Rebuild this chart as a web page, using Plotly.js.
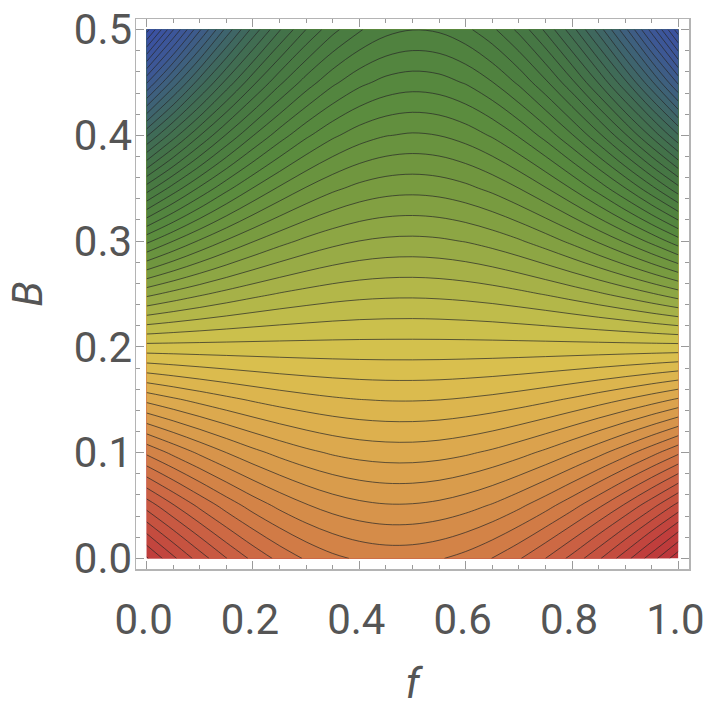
<!DOCTYPE html>
<html>
<head>
<meta charset="utf-8">
<script src="https://cdn.plot.ly/plotly-3.0.1.min.js"></script>
<style>
  html, body { margin: 0; padding: 0; background: #fff; }
  #chart { width: 706px; height: 708px; }
</style>
</head>
<body>
<div id="chart"></div>
<script>
// Ejes de la malla: f (horizontal) y B (vertical)
const fVals = [0, 0.05, 0.1, 0.15, 0.2, 0.25, 0.3, 0.35, 0.4, 0.45, 0.5,
               0.55, 0.6, 0.65, 0.7, 0.75, 0.8, 0.85, 0.9, 0.95, 1];
const bVals = [0, 0.05, 0.1, 0.15, 0.2, 0.25, 0.3, 0.35, 0.4, 0.45, 0.5];

// Valores, en unidades de "nivel de contorno" (una fila por B)
const zB000 = [-10.13, -8.22, -6.52, -5.03, -3.76, -2.71, -1.87, -1.25, -0.84, -0.65, -0.67,
               -0.91, -1.36, -2.02, -2.90, -4.00, -5.31, -6.84, -8.58, -10.54, -12.71];
const zB005 = [-5.60, -4.09, -2.76, -1.59, -0.58, 0.25, 0.92, 1.42, 1.75, 1.92, 1.91,
               1.74, 1.40, 0.90, 0.22, -0.62, -1.63, -2.81, -4.15, -5.66, -7.34];
const zB010 = [-0.80, 0.25, 1.18, 2.00, 2.71, 3.29, 3.76, 4.12, 4.36, 4.48, 4.49,
               4.38, 4.15, 3.81, 3.35, 2.78, 2.09, 1.29, 0.37, -0.67, -1.82];
const zB015 = [4.27, 4.82, 5.31, 5.74, 6.11, 6.42, 6.66, 6.85, 6.98, 7.05, 7.06,
               7.01, 6.89, 6.72, 6.49, 6.20, 5.85, 5.43, 4.96, 4.43, 3.84];
const zB020 = [9.63, 9.63, 9.63, 9.63, 9.63, 9.63, 9.63, 9.63, 9.63, 9.63, 9.63,
               9.63, 9.63, 9.63, 9.63, 9.63, 9.63, 9.63, 9.63, 9.63, 9.63];
const zB025 = [15.28, 14.68, 14.15, 13.68, 13.27, 12.93, 12.66, 12.44, 12.29, 12.21, 12.19,
               12.24, 12.35, 12.52, 12.76, 13.06, 13.43, 13.86, 14.35, 14.91, 15.54];
const zB030 = [21.25, 20.00, 18.88, 17.90, 17.05, 16.34, 15.76, 15.31, 14.99, 14.81, 14.76,
               14.84, 15.05, 15.40, 15.88, 16.50, 17.25, 18.13, 19.14, 20.29, 21.57];
const zB035 = [27.53, 25.58, 23.84, 22.30, 20.97, 19.85, 18.93, 18.22, 17.71, 17.41, 17.32,
               17.43, 17.75, 18.27, 19.00, 19.93, 21.07, 22.42, 23.97, 25.73, 27.69];
const zB040 = [34.15, 31.45, 29.03, 26.90, 25.04, 23.48, 22.19, 21.19, 20.47, 20.04, 19.88,
               20.01, 20.43, 21.12, 22.10, 23.36, 24.91, 26.74, 28.85, 31.24, 33.92];
const zB045 = [41.11, 37.60, 34.46, 31.68, 29.27, 27.22, 25.54, 24.22, 23.27, 22.68, 22.45,
               22.59, 23.09, 23.96, 25.19, 26.79, 28.75, 31.07, 33.76, 36.81, 40.23];
const zB050 = [48.42, 44.05, 40.14, 36.67, 33.66, 31.09, 28.98, 27.31, 26.10, 25.33, 25.02,
               25.15, 25.74, 26.77, 28.26, 30.19, 32.58, 35.41, 38.70, 42.43, 46.62];

const zGrid = [zB000, zB005, zB010, zB015, zB020, zB025, zB030, zB035, zB040, zB045, zB050];

const xTicks = [0, 0.2, 0.4, 0.6, 0.8, 1];
const xTickText = ['0.0', '0.2', '0.4', '0.6', '0.8', '1.0'];
const yTicks = [0, 0.1, 0.2, 0.3, 0.4, 0.5];
const yTickText = ['0.0', '0.1', '0.2', '0.3', '0.4', '0.5'];

// Escala tipo "DarkRainbow" invertida: rojo abajo, azul arriba
const escala = [
  [0.000, '#bb333a'],
  [0.048, '#c03e3c'],
  [0.129, '#ca5f43'],
  [0.194, '#d38247'],
  [0.242, '#d99a4c'],
  [0.290, '#ddae4e'],
  [0.339, '#dbbf4e'],
  [0.371, '#cfc24c'],
  [0.403, '#b8ba4a'],
  [0.452, '#91a845'],
  [0.500, '#73983f'],
  [0.565, '#588a3e'],
  [0.629, '#4b7d40'],
  [0.694, '#447446'],
  [0.758, '#3f6a58'],
  [0.823, '#3e6278'],
  [0.887, '#3d5895'],
  [1.000, '#3a4fa6'],
];

const contorno = {
  type: 'contour',
  x: fVals,
  y: bVals,
  z: zGrid,
  zmin: -13,
  zmax: 49,
  colorscale: escala,
  showscale: false,
  contours: { start: -12, end: 48, size: 1, coloring: 'fill' },
  line: { color: 'rgba(40,40,40,0.7)', width: 1, smoothing: 1 },
  hoverinfo: 'skip',
};

const fuente = { family: 'Roboto, sans-serif', size: 42, color: '#555555' };
const ejeComun = {
  showgrid: false,
  zeroline: false,
  showline: true,
  linecolor: '#b4b4b4',
  linewidth: 1.5,
  mirror: 'allticks',
  ticks: 'inside',
  ticklen: 8,
  tickwidth: 1,
  tickcolor: '#9a9a9a',
  tickfont: fuente,
  ticklabeloverflow: 'allow',
};

const layout = {
  width: 706,
  height: 708,
  margin: { l: 136, r: 17, t: 19, b: 139 },
  paper_bgcolor: '#ffffff',
  plot_bgcolor: '#ffffff',
  showlegend: false,
  xaxis: Object.assign({}, ejeComun, {
    range: [-0.02, 1.02],
    tickmode: 'array',
    tickvals: xTicks,
    ticktext: xTickText,
    ticklabelstandoff: 13,
    ticklabelshift: -3,
    minor: { dtick: 0.05, ticks: 'inside', ticklen: 4, tickcolor: '#9a9a9a', showgrid: false },
    title: { text: 'f', font: Object.assign({}, fuente, { style: 'italic' }), standoff: 30 },
  }),
  yaxis: Object.assign({}, ejeComun, {
    range: [-0.01, 0.51],
    tickmode: 'array',
    tickvals: yTicks,
    ticktext: yTickText,
    ticklabelstandoff: -6,
    minor: { dtick: 0.02, ticks: 'inside', ticklen: 4, tickcolor: '#9a9a9a', showgrid: false },
    title: { text: 'B', font: Object.assign({}, fuente, { style: 'italic' }), standoff: 18 },
  }),
};

Plotly.newPlot('chart', [contorno], layout, { displayModeBar: false, staticPlot: true });
</script>
</body>
</html>
